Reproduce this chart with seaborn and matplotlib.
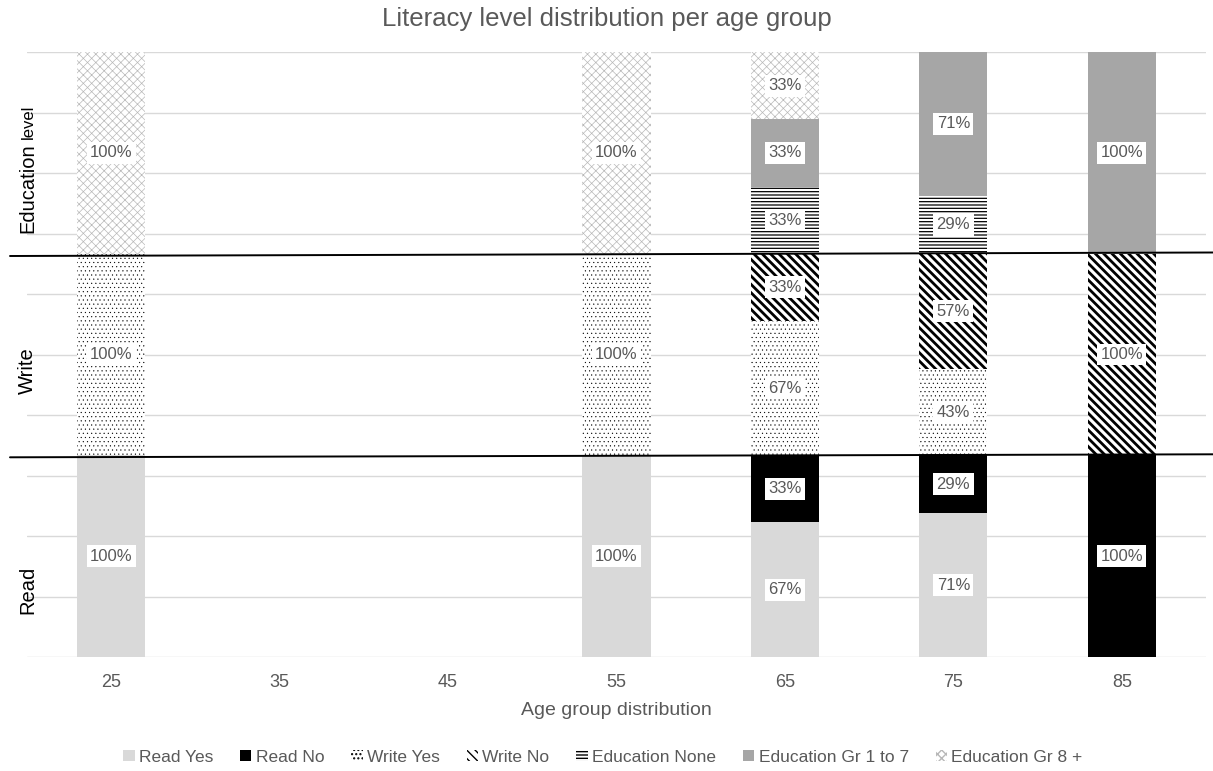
import numpy as np
import pandas as pd
import matplotlib
matplotlib.use("Agg")
import matplotlib.pyplot as plt
import seaborn as sns
from matplotlib.patches import Patch
from matplotlib.lines import Line2D

# ---- data (percent of each age group) ----
ages = ["25", "35", "45", "55", "65", "75", "85"]
read_yes = [100, 0, 0, 100, 66.7, 71.4, 0]
read_no = [0, 0, 0, 0, 33.3, 28.6, 100]
write_yes = [100, 0, 0, 100, 66.7, 42.9, 0]
write_no = [0, 0, 0, 0, 33.3, 57.1, 100]
edu_none = [0, 0, 0, 0, 33.3, 28.6, 0]
edu_gr1_7 = [0, 0, 0, 0, 33.3, 71.4, 100]
edu_gr8 = [100, 0, 0, 100, 33.3, 0, 0]

section_names = ["Read", "Write", "Education level"]
series_names = ["Read Yes", "Read No", "Write Yes", "Write No",
                "Education None", "Education Gr 1 to 7", "Education Gr 8 +"]

sections = [
    [("Read Yes", read_yes), ("Read No", read_no)],
    [("Write Yes", write_yes), ("Write No", write_no)],
    [("Education None", edu_none), ("Education Gr 1 to 7", edu_gr1_7),
     ("Education Gr 8 +", edu_gr8)],
]

styles = {
    "Read Yes": dict(fc="#d9d9d9", hatch=None, hc="#d9d9d9", hlw=1.0),
    "Read No": dict(fc="#000000", hatch=None, hc="#000000", hlw=1.0),
    "Write Yes": dict(fc="white", hatch="....", hc="#000000", hlw=0.3),
    "Write No": dict(fc="white", hatch="\\\\\\\\", hc="#000000", hlw=2.0),
    "Education None": dict(fc="white", hatch="-----", hc="#000000", hlw=0.9),
    "Education Gr 1 to 7": dict(fc="#a6a6a6", hatch=None, hc="#a6a6a6", hlw=1.0),
    "Education Gr 8 +": dict(fc="white", hatch="xxxx", hc="#b8b8b8", hlw=0.5),
}

sns.set_style("white")
plt.rcParams["font.family"] = ["Liberation Sans", "DejaVu Sans"]

TXT = "#595959"

# ---- build stacked segments ----
rows = []
for s_idx, sec in enumerate(sections):
    base = 100 * s_idx
    cum = np.zeros(len(ages))
    for name, vals in sec:
        v = np.asarray(vals, dtype=float)
        for i, a in enumerate(ages):
            rows.append(dict(series=name, age=a, pos=i, value=v[i],
                             bottom=base + cum[i], top=base + cum[i] + v[i]))
        cum += v
df = pd.DataFrame(rows)
df["top_plot"] = df["top"].where(df["value"] > 0)

fig, ax = plt.subplots(figsize=(12.13, 7.71), dpi=100)
fig.subplots_adjust(left=27 / 1213, right=1206 / 1213, bottom=114 / 771, top=719 / 771)

# overlapping cumulative bars, drawn from highest stack level downwards
for name in reversed(series_names):
    st = styles[name]
    sub = df[df["series"] == name]
    n0 = len(ax.patches)
    with plt.rc_context({"hatch.linewidth": st["hlw"]}):
        sns.barplot(data=sub, x="age", y="top_plot", order=ages, color=st["fc"],
                    saturation=1, width=0.405, errorbar=None, ax=ax,
                    hatch=st["hatch"], edgecolor=st["hc"], linewidth=0)
    for p in ax.patches[n0:]:
        p.set_facecolor(st["fc"])
        p.set_edgecolor(st["hc"])
        p.set_linewidth(0)
        if st["hatch"]:
            p.set_hatch(st["hatch"])
        if hasattr(p, "set_hatch_linewidth"):
            p.set_hatch_linewidth(st["hlw"])

# value labels
for _, r in df[df["value"] > 0].iterrows():
    ax.text(r["pos"], r["bottom"] + r["value"] / 2, f"{r['value']:.0f}%",
            ha="center", va="center", fontsize=12, color=TXT, zorder=5,
            bbox=dict(boxstyle="square,pad=0.2", fc="white", ec="none"))

ax.set_ylim(0, 300)
ax.set_xlim(-0.5, len(ages) - 0.5)
ax.set_yticks(np.arange(0, 301, 30))
ax.set_yticklabels([])
ax.yaxis.grid(True, color="#d9d9d9", linewidth=1.0)
ax.set_axisbelow(True)
for sp in ax.spines.values():
    sp.set_visible(False)
ax.tick_params(axis="both", length=0)
ax.tick_params(axis="x", labelsize=13, labelcolor=TXT, pad=12)
ax.set_ylabel("")
ax.set_xlabel("Age group distribution", fontsize=14, color=TXT, labelpad=8)

fig.suptitle("Literacy level distribution per age group", fontsize=18.5,
             color=TXT, y=1 - 19 / 771, va="center")

# section labels on the left
H = 771.0
def fy(py):
    return 1 - py / H
fig.text(33 / 1213, fy(590), "Read", rotation=90, rotation_mode="anchor",
         ha="center", va="baseline", fontsize=14.5, color="black")
fig.text(33 / 1213, fy(371), "Write", rotation=90, rotation_mode="anchor",
         ha="center", va="baseline", fontsize=14.5, color="black")
fig.text(33 / 1213, fy(188), "Education", rotation=90, rotation_mode="anchor",
         ha="center", va="baseline", fontsize=14.5, color="black")
fig.text(33 / 1213, fy(122), "level", rotation=90, rotation_mode="anchor",
         ha="center", va="baseline", fontsize=12, color="black")

# section dividers
fig.add_artist(Line2D([10 / 1213, 1.0], [fy(457.3), fy(454.3)],
                      transform=fig.transFigure, color="black", lw=1.4))
fig.add_artist(Line2D([10 / 1213, 1.0], [fy(256.0), fy(252.5)],
                      transform=fig.transFigure, color="black", lw=1.4))

# legend
handles = []
for name in series_names:
    st = styles[name]
    h = Patch(facecolor=st["fc"], edgecolor=st["hc"], hatch=st["hatch"], linewidth=0)
    handles.append(h)
leg = fig.legend(handles, series_names, loc="center", bbox_to_anchor=(0.497, fy(757)),
                 ncol=7, frameon=False, fontsize=12.5, handlelength=0.65,
                 handleheight=0.65, handletextpad=0.25, columnspacing=1.55)
for t in leg.get_texts():
    t.set_color(TXT)

fig.savefig("out.png", dpi=100)
